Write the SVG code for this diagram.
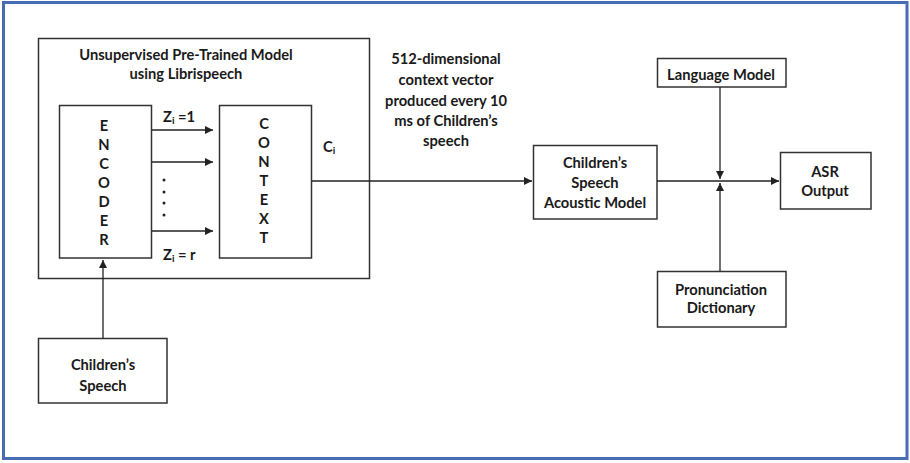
<svg xmlns="http://www.w3.org/2000/svg" width="910" height="463" viewBox="0 0 910 463">
  <defs>
    <marker id="arrow" viewBox="0 0 10 10" refX="10" refY="5" markerWidth="8" markerHeight="8" markerUnits="userSpaceOnUse" orient="auto">
      <path d="M0,0 L10,5 L0,10 z" fill="#222"/>
    </marker>
    <style>
      .box { fill: #fff; stroke: #333; stroke-width: 1.5; }
      .frame { fill: #fff; stroke: #4a6cb3; stroke-width: 3; }
      .lbl { font-family: Lato, "Liberation Sans", sans-serif; font-weight: bold; font-size: 14.7px; fill: #1a1a1a; text-anchor: middle; dominant-baseline: central; }
      .sym { font-family: Lato, "Liberation Sans", sans-serif; font-weight: bold; font-size: 14.7px; fill: #1a1a1a; text-anchor: start; }
      .wire { fill: none; stroke: #222; stroke-width: 1.3; }
      .arr { marker-end: url(#arrow); }
      .dot { fill: #222; }
      .sub { font-size: 10px; }
    </style>
  </defs>

  <!-- page frame -->
  <rect class="frame" x="3.5" y="2.5" width="903.5" height="456"/>

  <!-- pre-trained model container -->
  <g id="pretrained">
    <rect class="box" x="38.5" y="38.5" width="331" height="240"/>
    <text class="lbl" x="186" y="54">Unsupervised Pre-Trained Model</text>
    <text class="lbl" x="186" y="73">using Librispeech</text>
  </g>

  <g id="encoder">
    <rect class="box" x="59.5" y="105.5" width="92" height="152.5"/>
    <text class="lbl" x="104" y="124.5">E</text>
    <text class="lbl" x="104" y="143.5">N</text>
    <text class="lbl" x="104" y="162.5">C</text>
    <text class="lbl" x="104" y="181.5">O</text>
    <text class="lbl" x="104" y="200.5">D</text>
    <text class="lbl" x="104" y="219.5">E</text>
    <text class="lbl" x="104" y="238.5">R</text>
  </g>

  <g id="context">
    <rect class="box" x="219.5" y="105.5" width="92" height="152.5"/>
    <text class="lbl" x="264" y="123">C</text>
    <text class="lbl" x="264" y="142">O</text>
    <text class="lbl" x="264" y="161">N</text>
    <text class="lbl" x="264" y="180">T</text>
    <text class="lbl" x="264" y="199">E</text>
    <text class="lbl" x="264" y="218">X</text>
    <text class="lbl" x="264" y="237">T</text>
  </g>

  <g id="childrens-speech">
    <rect class="box" x="38.5" y="338.5" width="128.5" height="64.5"/>
    <text class="lbl" x="103" y="364">Children’s</text>
    <text class="lbl" x="103" y="385">Speech</text>
  </g>

  <g id="acoustic-model">
    <rect class="box" x="533.5" y="145.5" width="123.5" height="73.5"/>
    <text class="lbl" x="595" y="162">Children’s</text>
    <text class="lbl" x="595" y="182">Speech</text>
    <text class="lbl" x="595" y="202">Acoustic Model</text>
  </g>

  <g id="language-model">
    <rect class="box" x="657.5" y="58.5" width="128.5" height="28.5"/>
    <text class="lbl" x="721" y="73.5">Language Model</text>
  </g>

  <g id="pronunciation-dictionary">
    <rect class="box" x="657.5" y="271.5" width="128.5" height="55.5"/>
    <text class="lbl" x="721" y="288.5">Pronunciation</text>
    <text class="lbl" x="721" y="307">Dictionary</text>
  </g>

  <g id="asr-output">
    <rect class="box" x="780.5" y="152.5" width="90.5" height="56.5"/>
    <text class="lbl" x="825" y="171">ASR</text>
    <text class="lbl" x="825" y="189.5">Output</text>
  </g>

  <!-- annotations -->
  <g id="annotations">
    <text class="sym" x="163" y="122">Z<tspan class="sub" dy="1.5">i</tspan><tspan dy="-1.5"> =1</tspan></text>
    <text class="sym" x="163" y="260">Z<tspan class="sub" dy="1.5">i</tspan><tspan dy="-1.5"> = r</tspan></text>
    <text class="sym" x="323" y="152">C<tspan class="sub" dy="1.5">i</tspan></text>
    <text class="lbl" x="446" y="58">512-dimensional</text>
    <text class="lbl" x="446" y="79">context vector</text>
    <text class="lbl" x="446" y="100">produced every 10</text>
    <text class="lbl" x="446" y="120">ms of Children’s</text>
    <text class="lbl" x="446" y="140">speech</text>
    <circle class="dot" cx="164" cy="180" r="1.5"/>
    <circle class="dot" cx="164" cy="192" r="1.5"/>
    <circle class="dot" cx="164" cy="203" r="1.5"/>
    <circle class="dot" cx="164" cy="215" r="1.5"/>
  </g>

  <!-- connectors -->
  <g id="connectors">
    <line class="wire arr" x1="152" y1="130" x2="213" y2="130"/>
    <line class="wire arr" x1="152" y1="162" x2="213" y2="162"/>
    <line class="wire arr" x1="152" y1="231" x2="213" y2="231"/>
    <line class="wire arr" x1="103" y1="338" x2="103" y2="260"/>
    <line class="wire arr" x1="312" y1="181" x2="532" y2="181"/>
    <line class="wire arr" x1="657" y1="181" x2="779" y2="181"/>
    <line class="wire arr" x1="720" y1="87" x2="720" y2="179"/>
    <line class="wire arr" x1="720" y1="271" x2="720" y2="183"/>
  </g>
</svg>
